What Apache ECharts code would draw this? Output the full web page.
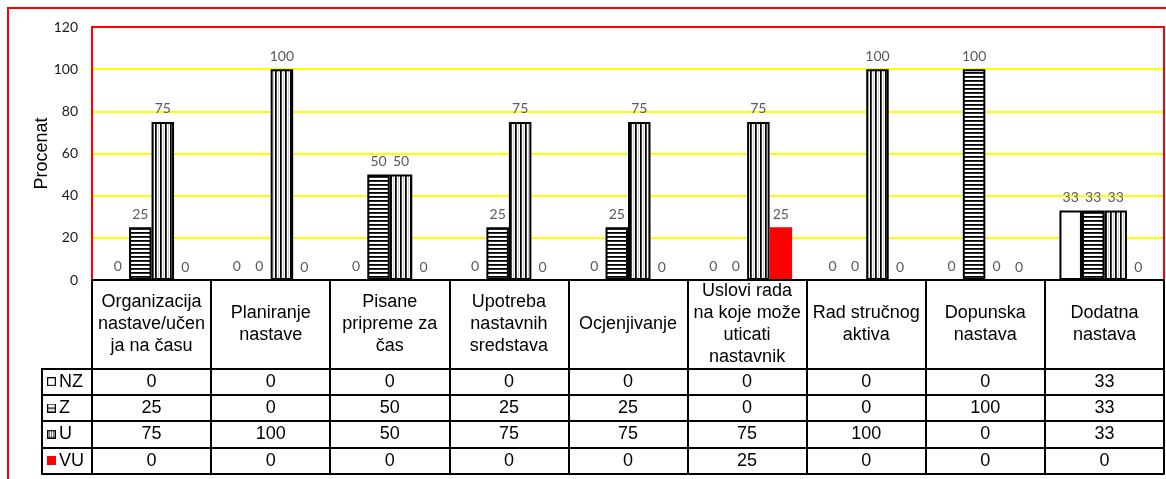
<!DOCTYPE html>
<html>
<head>
<meta charset="utf-8">
<script src="https://cdn.jsdelivr.net/npm/echarts@6/dist/echarts.min.js"></script>
<style>
html,body{margin:0;padding:0;background:#fff;}
#chart{width:1166px;height:479px;}
</style>
</head>
<body>
<div id="chart"></div>
<script>
// ---- data ----
const categories = ['Organizacija\nnastave/učen\nja na času', 'Planiranje\nnastave', 'Pisane\npripreme za\nčas', 'Upotreba\nnastavnih\nsredstava', 'Ocjenjivanje', 'Uslovi rada\nna koje može\nuticati\nnastavnik', 'Rad stručnog\naktiva', 'Dopunska\nnastava', 'Dodatna\nnastava'];
const seriesNames = ['NZ', 'Z', 'U', 'VU'];
const nzValues = [0, 0, 0, 0, 0, 0, 0, 0, 33];
const zValues = [25, 0, 50, 25, 25, 0, 0, 100, 33];
const uValues = [75, 100, 50, 75, 75, 75, 100, 0, 33];
const vuValues = [0, 0, 0, 0, 0, 25, 0, 0, 0];
const yMin = 0, yMax = 120, yStep = 20;
const yAxisName = 'Procenat';

// ---- layout ----
const PLOT = {left: 92, top: 27, width: 1072, height: 253};
const LEG = {left: 42, width: 50};
const HEADER_H = 88.3;
const ROW_OFFSETS = [88.3, 115, 141, 167.3, 194];
const TABLE_FONT = '"Liberation Sans", Arial, sans-serif';
const NUM_FONT = 'Lato, "Open Sans", sans-serif';

function tile(w, h, draw) {
  const c = document.createElement('canvas');
  c.width = w; c.height = h;
  const ctx = c.getContext('2d');
  ctx.fillStyle = '#fff'; ctx.fillRect(0, 0, w, h);
  draw(ctx);
  return c;
}
const hTile = tile(4, 4, ctx => { ctx.fillStyle = '#000'; ctx.fillRect(0, 0, 4, 1); ctx.fillStyle = '#333'; ctx.fillRect(0, 1, 4, 1); });
const vTile = tile(5, 4, ctx => { ctx.fillStyle = '#000'; ctx.fillRect(0, 0, 1, 4); ctx.fillStyle = '#444'; ctx.fillRect(1, 0, 1, 4); ctx.fillStyle = '#ccc'; ctx.fillRect(3, 0, 1, 4); });
const hPattern = {image: hTile, repeat: 'repeat'};
const vPattern = {image: vTile, repeat: 'repeat'};

function icon(draw) {
  const c = document.createElement('canvas');
  c.width = 9; c.height = 9;
  const ctx = c.getContext('2d');
  draw(ctx);
  return c.toDataURL();
}
const iconNZ = icon(ctx => { ctx.fillStyle = '#fff'; ctx.fillRect(0,0,9,9); ctx.strokeStyle = '#000'; ctx.lineWidth = 1.2; ctx.strokeRect(0.6,0.6,7.8,7.8); });
const iconZ = icon(ctx => { ctx.fillStyle = '#fff'; ctx.fillRect(0,0,9,9); ctx.strokeStyle = '#000'; ctx.lineWidth = 1.2; ctx.strokeRect(0.6,0.6,7.8,7.8); ctx.fillStyle='#000'; ctx.fillRect(1,4,7,1.3); });
const iconU = icon(ctx => { ctx.fillStyle = '#fff'; ctx.fillRect(0,0,9,9); ctx.fillStyle='#777'; ctx.fillRect(2,1,1,7); ctx.fillRect(4,1,1,7); ctx.fillRect(6,1,1,7); ctx.strokeStyle = '#000'; ctx.lineWidth = 1.4; ctx.strokeRect(0.7,0.7,7.6,7.6); });
const iconVU = icon(ctx => { ctx.fillStyle = '#ff0000'; ctx.fillRect(0,0,9,9); });
const iconImgs = [iconNZ, iconZ, iconU, iconVU];

const rows = [nzValues, zValues, uValues, vuValues];
const fills = ['#ffffff', hPattern, vPattern, '#ff0000'];
const borders = [2, 2, 2, 0];
const BLACK_LINE = {show: true, onZero: false, lineStyle: {color: '#000', width: 2}};

const grids = [{left: PLOT.left, top: PLOT.top, width: PLOT.width, height: PLOT.height, show: true, borderColor: '#ff0000', borderWidth: 2, backgroundColor: 'transparent', z: 3}];
const xAxes = [{
  type: 'category', gridIndex: 0, data: categories, position: 'bottom',
  axisLine: BLACK_LINE,
  axisTick: {show: true, interval: 0, length: ROW_OFFSETS[4], lineStyle: {color: '#000', width: 2}},
  axisLabel: {interval: 0, margin: HEADER_H / 2, verticalAlign: 'middle', align: 'center', fontSize: 18, lineHeight: 22, color: '#000', fontFamily: TABLE_FONT},
  splitLine: {show: false}, z: 5
}];
const yAxes = [{
  type: 'value', gridIndex: 0, min: yMin, max: yMax, interval: yStep,
  name: yAxisName, nameLocation: 'middle', nameGap: 41, nameMoveOverlap: false,
  nameTextStyle: {fontSize: 18, color: '#000', fontFamily: TABLE_FONT},
  axisLine: {show: false}, axisTick: {show: false},
  axisLabel: {margin: 14, fontSize: 14, color: '#1a1a1a', fontFamily: NUM_FONT},
  splitLine: {show: true, lineStyle: {color: '#ffff00', width: 2}}
}];

// value rows of the data table
ROW_OFFSETS.forEach((off, k) => {
  const gi = grids.length;
  grids.push({left: PLOT.left, top: PLOT.top, width: PLOT.width, height: PLOT.height, show: false});
  yAxes.push({type: 'value', gridIndex: gi, show: false});
  const rowVals = rows[k];
  xAxes.push({
    type: 'category', gridIndex: gi, data: categories, position: 'bottom', offset: off,
    axisLine: BLACK_LINE,
    axisTick: {show: false},
    axisLabel: rowVals ? {interval: 0, margin: (ROW_OFFSETS[k + 1] - off) / 2, verticalAlign: 'middle', fontSize: 18, color: '#000', fontFamily: TABLE_FONT,
      formatter: (v, i) => String(rowVals[i])} : {show: false},
    splitLine: {show: false}, z: 5
  });
});
// legend column of the data table
ROW_OFFSETS.forEach((off, k) => {
  const gi = grids.length;
  grids.push({left: LEG.left, top: PLOT.top, width: LEG.width, height: PLOT.height, show: false});
  yAxes.push({type: 'value', gridIndex: gi, show: false});
  const rich = {
    s: {width: 5},
    g: {width: 3},
    n: {fontSize: 18, color: '#000', fontFamily: TABLE_FONT, verticalAlign: 'middle'}
  };
  iconImgs.forEach((img, j) => { rich['i' + j] = {width: 9, height: 9, backgroundColor: {image: img}, verticalAlign: 'middle'}; });
  xAxes.push({
    type: 'category', gridIndex: gi, data: ['', ''], boundaryGap: false, position: 'bottom', offset: off,
    axisLine: BLACK_LINE,
    axisTick: k === 0 ? {show: true, interval: 0, length: ROW_OFFSETS[4] - ROW_OFFSETS[0], lineStyle: {color: '#000', width: 2}} : {show: false},
    axisLabel: k < 4 ? {interval: 0, margin: (ROW_OFFSETS[k + 1] - off) / 2, verticalAlign: 'middle', align: 'left',
      formatter: (v, i) => i === 0 ? '{s|}{i' + k + '|}{g|}{n|' + seriesNames[k] + '}' : '', rich: rich} : {show: false},
    splitLine: {show: false}, z: 5
  });
});

const series = seriesNames.map((name, k) => ({
  name: name, type: 'bar', xAxisIndex: 0, yAxisIndex: 0,
  data: rows[k], barWidth: 22.5, barGap: '0%',
  itemStyle: {color: fills[k], borderColor: '#000', borderWidth: borders[k]},
  label: {show: true, position: 'top', distance: 6, color: '#595959', fontSize: 14, fontFamily: NUM_FONT},
  z: 4
}));

const chart = echarts.init(document.getElementById('chart'), null, {renderer: 'canvas'});
chart.setOption({
  animation: false,
  backgroundColor: '#fff',
  grid: grids, xAxis: xAxes, yAxis: yAxes, series: series,
  graphic: [{type: 'rect', shape: {x: 8, y: 8, width: 1200, height: 520}, style: {fill: 'none', stroke: '#ff0000', lineWidth: 2}, silent: true, z: 0}]
});
</script>
</body>
</html>
